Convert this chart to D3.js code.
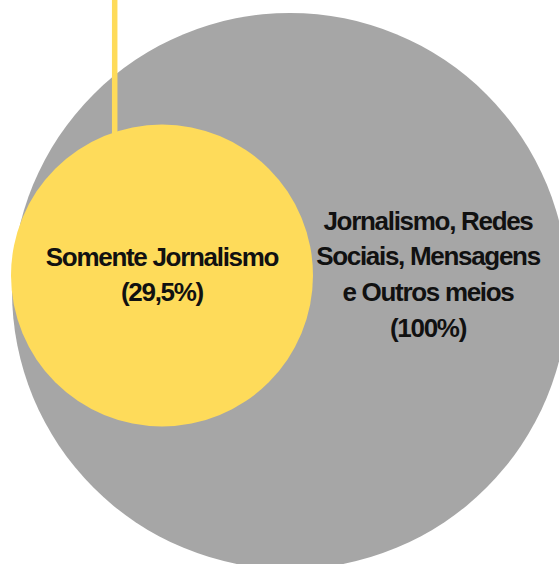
<!DOCTYPE html>
<html>
<head>
<meta charset="utf-8">
<script src="https://cdn.jsdelivr.net/npm/d3@7"></script>
<style>
  html, body { margin: 0; padding: 0; background: #fff; }
  text { font-family: "Liberation Sans", Arial, sans-serif; font-weight: bold; }
</style>
</head>
<body>
<svg id="chart"></svg>
<script>
// data
var categories = ['Jornalismo, Redes Sociais, Mensagens e Outros meios', 'Somente Jornalismo'];
var categoryLines = [['Jornalismo, Redes', 'Sociais, Mensagens', 'e Outros meios'], ['Somente Jornalismo']];
var values = [100, 29.5];
var colors = ['#a6a6a6', '#fedb5a'];

var W = 559, H = 564;

var svg = d3.select('#chart')
    .attr('width', W)
    .attr('height', H);

// area-proportional radius
var r = d3.scaleSqrt().domain([0, 100]).range([0, 278]);

var locale = d3.formatLocale({ decimal: ',', thousands: '.', grouping: [3], currency: ['', ''] });
var fmt = locale.format('~r');

// layout: outer circle, inner circle sits at its left side
var centers = [{ x: 290, y: 291 }, { x: 162, y: 275.5 }];
var textCx = [428, 162];
var lineH = 35.7;
var firstBase = [229.6, 265.5];

var nodes = categories.map(function(c, i) {
  return {
    name: c,
    lines: categoryLines[i].concat(['(' + fmt(values[i]) + '%)']),
    value: values[i],
    color: colors[i],
    x: centers[i].x,
    y: centers[i].y,
    r: r(values[i]),
    tx: textCx[i],
    ty: firstBase[i]
  };
});

// big circle
svg.append('circle')
    .attr('cx', nodes[0].x)
    .attr('cy', nodes[0].y)
    .attr('r', nodes[0].r)
    .attr('fill', nodes[0].color);

// leader line down to the small circle
var lx = 114.7;
var inner = nodes[1];
var ly = inner.y - Math.sqrt(inner.r * inner.r - (inner.x - lx) * (inner.x - lx));
svg.append('line')
    .attr('x1', lx).attr('x2', lx)
    .attr('y1', 0).attr('y2', ly + 2)
    .attr('stroke', inner.color)
    .attr('stroke-width', 5.5);

svg.append('circle')
    .attr('cx', inner.x)
    .attr('cy', inner.y)
    .attr('r', inner.r)
    .attr('fill', inner.color);

var labels = svg.append('g')
    .selectAll('text')
    .data(nodes)
    .enter()
    .append('text')
    .attr('text-anchor', 'middle')
    .attr('fill', '#111')
    .style('font-size', '26px')
    .style('letter-spacing', '-1.3px');

labels.selectAll('tspan')
    .data(function(d) { return d.lines.map(function(l, j) { return { t: l, x: d.tx, y: d.ty + j * lineH }; }); })
    .enter()
    .append('tspan')
    .attr('x', function(d) { return d.x; })
    .attr('y', function(d) { return d.y; })
    .text(function(d) { return d.t; });
</script>
</body>
</html>
